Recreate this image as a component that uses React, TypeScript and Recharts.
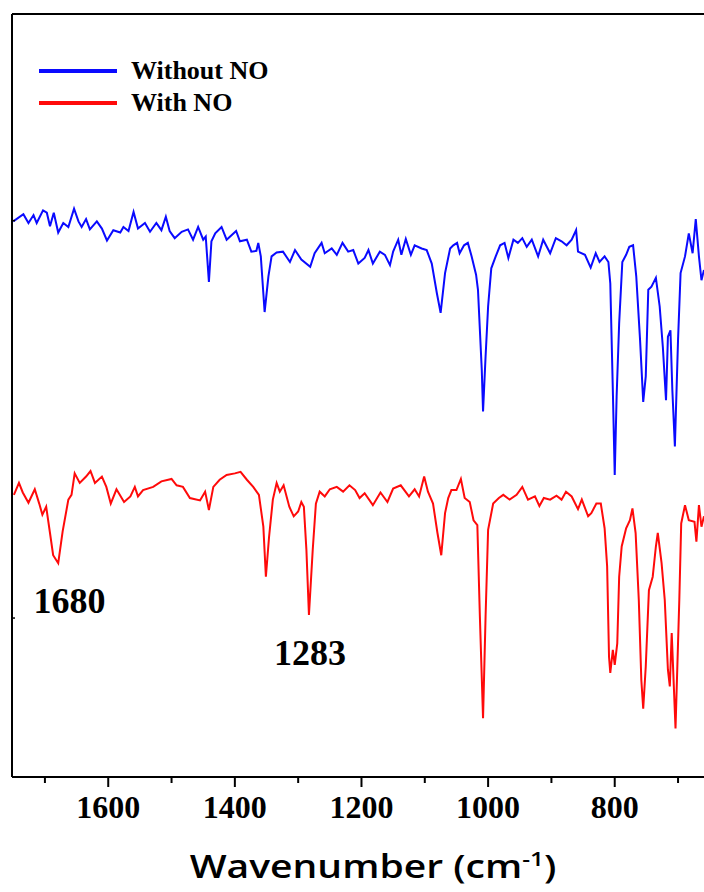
import React from 'react';
import { LineChart, Line, XAxis, YAxis, Legend, ReferenceDot } from 'recharts';

// Wavenumber (cm-1) and transmittance (a.u.)
const blueWavenumber = [1750,1734,1726,1718,1713,1703,1697,1692,1686,1679,1671,1663,1654,1647,1642,1635,1629,1618,1610,1602,1592,1581,1576,1568,1560,1553,1542,1534,1524,1516,1509,1503,1495,1484,1474,1466,1458,1450,1446,1441,1437,1431,1421,1413,1398,1392,1381,1374,1366,1363,1359,1353,1347,1342,1334,1324,1313,1305,1295,1281,1274,1263,1258,1247,1239,1230,1221,1213,1205,1195,1189,1182,1171,1163,1155,1150,1142,1137,1130,1122,1116,1105,1097,1089,1081,1075,1068,1060,1055,1049,1045,1038,1032,1026,1019,1016,1010,1008,1004,1000,995,988,981,974,968,960,953,946,939,931,921,913,902,893,884,876,868,861,858,847,838,830,824,816,810,807,803,800,797,793,788,782,777,771,766,760,755,751,747,742,735,729,724,719,716,712,709,705,700,696,689,683,677,672,667,663,659];
const blueValues = [69.9,70.8,69.7,70.7,69.7,71.3,71.0,69.3,71.0,68.5,69.7,69.2,71.5,69.9,69.2,70.2,68.9,69.9,69.0,67.5,68.8,68.5,69.2,68.7,71.1,69.0,69.7,68.6,69.7,68.8,70.5,68.7,67.8,68.6,68.9,67.6,69.2,67.6,68.0,62.3,67.4,68.4,69.2,67.6,68.7,67.4,67.6,66.1,66.2,67.2,65.5,58.5,63.0,65.5,66.0,66.1,64.8,66.3,65.1,64.2,65.9,67.2,65.9,66.5,65.7,67.2,66.1,66.3,64.6,65.3,66.3,64.6,66.1,65.7,64.4,66.1,67.6,65.7,67.7,65.7,66.9,66.5,66.3,64.6,60.9,58.4,63.4,66.5,66.9,67.2,65.9,66.9,67.2,65.5,63.2,61.3,51.2,46.0,52.9,59.2,64.0,65.5,66.9,67.2,65.3,67.6,67.2,67.8,66.7,67.6,65.5,67.6,65.9,67.8,67.4,66.9,67.6,68.8,66.1,65.7,64.1,65.9,64.8,65.5,64.8,62.1,48.7,38.0,47.9,57.1,64.8,65.7,66.7,66.9,63.0,55.0,47.2,50.4,61.3,61.7,62.8,59.2,54.1,47.4,55.4,56.2,48.7,41.6,55.0,63.4,65.5,68.4,65.9,70.2,65.5,62.5,63.8];

const redWavenumber = [1749,1741,1735,1726,1716,1709,1704,1698,1692,1687,1679,1672,1663,1658,1653,1645,1635,1628,1621,1610,1603,1596,1587,1575,1565,1558,1553,1545,1529,1516,1500,1492,1482,1471,1455,1447,1441,1434,1424,1413,1400,1391,1381,1371,1362,1355,1351,1346,1340,1334,1329,1323,1314,1307,1300,1295,1291,1287,1283,1277,1272,1266,1258,1250,1239,1229,1219,1210,1203,1195,1182,1170,1159,1150,1138,1125,1116,1109,1101,1095,1087,1080,1074,1068,1063,1058,1050,1043,1037,1029,1023,1017,1013,1008,1004,1000,992,983,976,966,955,946,937,926,919,912,902,892,884,877,868,858,852,842,837,829,822,816,812,809,807,803,800,796,793,789,782,776,772,767,762,758,755,751,746,740,735,732,726,721,716,713,710,704,698,695,689,683,674,671,667,663,659];
const redValues = [35.5,37.0,35.8,34.5,36.2,34.4,33.0,34.0,30.7,27.9,26.9,30.9,34.9,35.5,38.2,37.0,37.8,38.5,37.0,37.8,36.5,34.4,36.2,34.6,35.3,36.5,35.3,36.1,36.5,37.2,37.5,36.7,36.5,35.1,34.8,35.9,33.6,36.5,37.4,38.0,38.2,38.4,37.4,36.5,35.5,31.5,25.2,30.2,34.9,37.0,35.9,36.7,34.0,32.8,33.4,34.6,34.0,28.6,20.4,28.6,34.4,35.9,35.3,36.2,36.5,35.9,36.7,36.1,35.1,35.7,34.2,35.8,34.6,36.3,36.7,35.3,36.2,35.3,37.8,35.9,34.4,30.7,27.9,33.2,35.1,36.1,36.1,37.5,35.1,34.6,32.3,31.7,20.2,7.4,20.2,31.1,34.4,35.1,35.5,34.9,35.5,36.5,34.9,35.3,34.1,35.1,34.9,35.4,34.9,35.9,35.3,33.7,34.9,32.8,33.2,34.4,34.4,31.3,26.5,15.1,13.1,16.0,14.1,16.8,25.2,29.0,31.3,32.3,33.8,30.7,22.3,12.2,8.6,13.9,23.5,25.2,29.0,30.7,26.9,22.3,13.5,11.4,18.1,6.1,22.3,31.9,34.2,32.3,32.1,29.6,34.2,31.5,32.8];

const xTicks = [1700, 1600, 1500, 1400, 1300, 1200, 1100, 1000, 900, 800, 700];
const yTicks = [20, 70];
const seriesNames = ['Without NO', 'With NO'];
const peakLabels = [
  { wavenumber: 1680, value: 26.9, text: '1680' },
  { wavenumber: 1283, value: 20.4, text: '1283' },
];

const blueData = blueWavenumber.map((w, i) => ({ w, t: blueValues[i] }));
const redData = redWavenumber.map((w, i) => ({ w, t: redValues[i] }));

const SERIF = '"Liberation Serif", "Times New Roman", serif';

const BottomTick = (props: any) => {
  const { x, y, payload } = props;
  const major = payload.value % 200 === 0;
  return (
    <g>
      <line x1={x} x2={x} y1={y} y2={y + (major ? 10 : 6)} stroke="#000" strokeWidth={2} />
      {major && (
        <text x={x} y={y + 41} textAnchor="middle" fontFamily={SERIF} fontWeight="bold" fontSize={32} fill="#000">
          {payload.value}
        </text>
      )}
    </g>
  );
};

const TopTick = (props: any) => {
  const { x, y, payload } = props;
  const major = payload.value % 200 === 0;
  return <line x1={x} x2={x} y1={y} y2={y + (major ? 8 : 5)} stroke="#000" strokeWidth={2} />;
};

const LeftTick = (props: any) => {
  const { x, y } = props;
  return <line x1={x} x2={x + 3} y1={y} y2={y} stroke="#000" strokeWidth={1.5} />;
};

const AxisTitle = (props: any) => {
  const vb = props.viewBox || { x: 12, y: 777, width: 692, height: 115 };
  const cx = vb.x + vb.width / 2 + 15;
  const cy = vb.y + 101;
  return (
    <g transform={`translate(${cx}, ${cy}) scale(1.22, 1)`}>
      <text
        x={0}
        y={0}
        textAnchor="middle"
        fontFamily='"Open Sans", "Noto Sans", sans-serif'
        fontWeight={600}
        fontSize={32}
        fill="#000"
      >
        Wavenumber (cm
        <tspan dy={-12} fontSize={20}>-1</tspan>
        <tspan dy={12}>)</tspan>
      </text>
    </g>
  );
};

const renderLegend = (props: any) => {
  const payload = [...(props.payload || [])].sort(
    (a: any, b: any) => seriesNames.indexOf(a.value) - seriesNames.indexOf(b.value)
  );
  return (
    <svg width={280} height={80} style={{ display: 'block' }}>
      {payload.map((e: any, i: number) => (
        <g key={i}>
          <line x1={9} x2={87} y1={21 + i * 32} y2={21 + i * 32} stroke={e.color} strokeWidth={4} />
          <text x={101} y={29 + i * 32} fontFamily={SERIF} fontWeight="bold" fontSize={26} fill="#000">
            {e.value}
          </text>
        </g>
      ))}
    </svg>
  );
};

const peakLabel = (text: string, dx: number, dy: number) => (props: any) => {
  const vb = props.viewBox || { x: 0, y: 0, width: 0, height: 0 };
  const cx = vb.x + (vb.width || 0) / 2;
  const cy = vb.y + (vb.height || 0) / 2;
  return (
    <text x={cx + dx} y={cy + dy} textAnchor="middle" fontFamily={SERIF} fontWeight="bold" fontSize={36} fill="#000">
      {text}
    </text>
  );
};

export default function App() {
  return (
    <div style={{ position: 'absolute', left: 0, top: 0, width: 704, height: 892, background: '#fff' }}>
      <LineChart width={704} height={892} margin={{ top: 0, right: 0, bottom: 0, left: 0 }}>
        <XAxis
          xAxisId="bottom"
          dataKey="w"
          type="number"
          domain={[659, 1752]}
          reversed
          allowDataOverflow
          ticks={xTicks}
          interval={0}
          height={115}
          tickSize={0}
          tickMargin={0}
          tickLine={false}
          axisLine={{ stroke: '#000', strokeWidth: 2 }}
          tick={(p: any) => <BottomTick {...p} />}
          label={{ content: (p: any) => <AxisTitle {...p} /> }}
        />
        <XAxis
          xAxisId="top"
          orientation="top"
          type="number"
          domain={[659, 1752]}
          reversed
          allowDataOverflow
          ticks={xTicks}
          interval={0}
          height={14}
          tickSize={0}
          tickMargin={0}
          tickLine={false}
          axisLine={{ stroke: '#000', strokeWidth: 2 }}
          tick={(p: any) => <TopTick {...p} />}
        />
        <YAxis
          type="number"
          domain={[0, 96]}
          allowDataOverflow
          ticks={yTicks}
          interval={0}
          width={12}
          tickSize={0}
          tickMargin={0}
          tickLine={false}
          axisLine={{ stroke: '#000', strokeWidth: 2 }}
          tick={(p: any) => <LeftTick {...p} />}
        />
        <Legend
          layout="vertical"
          align="center"
          verticalAlign="middle"
          wrapperStyle={{ left: 30, top: 50, width: 280, height: 80 }}
          content={renderLegend}
        />
        <Line
          xAxisId="bottom"
          data={blueData}
          dataKey="t"
          name={seriesNames[0]}
          type="linear"
          stroke="#0a0aff"
          strokeWidth={2}
          dot={false}
          activeDot={false}
          isAnimationActive={false}
        />
        <Line
          xAxisId="bottom"
          data={redData}
          dataKey="t"
          name={seriesNames[1]}
          type="linear"
          stroke="#ff0a0a"
          strokeWidth={2}
          dot={false}
          activeDot={false}
          isAnimationActive={false}
        />
        <ReferenceDot
          xAxisId="bottom"
          x={peakLabels[0].wavenumber}
          y={peakLabels[0].value}
          r={0}
          fill="none"
          stroke="none"
          label={peakLabel(peakLabels[0].text, 12, 50)}
        />
        <ReferenceDot
          xAxisId="bottom"
          x={peakLabels[1].wavenumber}
          y={peakLabels[1].value}
          r={0}
          fill="none"
          stroke="none"
          label={peakLabel(peakLabels[1].text, 1, 50)}
        />
      </LineChart>
    </div>
  );
}
